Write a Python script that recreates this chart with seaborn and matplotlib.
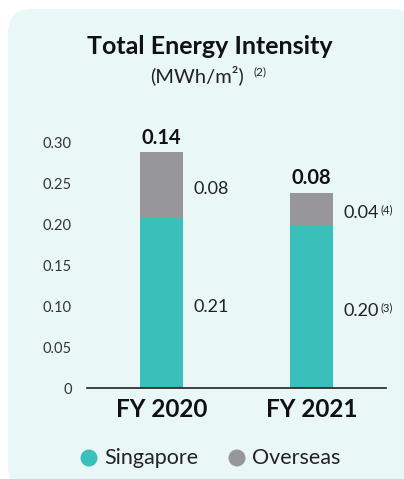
import matplotlib
matplotlib.use("Agg")
import matplotlib.pyplot as plt
import seaborn as sns
import pandas as pd
from matplotlib.patches import FancyBboxPatch, Ellipse

categories = ["FY 2020", "FY 2021"]
singapore = [0.208, 0.198]
overseas = [0.081, 0.041]
total_labels = ["0.14", "0.08"]
singapore_labels = ["0.21", "0.20"]
overseas_labels = ["0.08", "0.04"]
singapore_notes = ["", "(3)"]
overseas_notes = ["", "(4)"]
yticks = [0, 0.05, 0.10, 0.15, 0.20, 0.25, 0.30]
ytick_labels = ["0", "0.05", "0.10", "0.15", "0.20", "0.25", "0.30"]

TEAL = "#3bbfba"
GRAY = "#97979b"
BG = "#eaf7f7"
FONT = ["Lato", "DejaVu Sans"]

sns.set_theme(style="white")
plt.rcParams["font.family"] = FONT

W, H = 404, 479
fig = plt.figure(figsize=(W / 100, H / 100), dpi=100)
fig.patch.set_facecolor("white")


def px(x, y):
    return x / W, 1 - y / H


panel = FancyBboxPatch((8 / W, (H - 490) / H), (415 - 8) / W, (490 - 9) / H,
                       boxstyle="round,pad=0,rounding_size=0.06",
                       transform=fig.transFigure, facecolor=BG, edgecolor="none",
                       mutation_aspect=W / H, zorder=-10)
fig.patches.append(panel)

left, right = 87 / W, 386 / W
bottom = 1 - 388 / H
top = 1 - 142.7 / H
ax = fig.add_axes([left, bottom, right - left, top - bottom])
ax.set_facecolor("none")
ax.set_zorder(5)

totals = [s + o for s, o in zip(singapore, overseas)]
df = pd.DataFrame({"cat": categories, "total": totals, "sg": singapore})
sns.barplot(data=df, x="cat", y="total", color=GRAY, width=0.287, ax=ax,
            saturation=1, zorder=2, linewidth=0, edgecolor="none")
sns.barplot(data=df, x="cat", y="sg", color=TEAL, width=0.287, ax=ax,
            saturation=1, zorder=3, linewidth=0, edgecolor="none")

ax.set_xlim(-0.5, 1.5)
ax.set_ylim(0, 0.30)
ax.set_yticks(yticks)
ax.set_yticklabels(ytick_labels, fontsize=10.5, color="#333333")
ax.tick_params(axis="y", length=0, pad=11)
ax.tick_params(axis="x", length=0, pad=7)
ax.set_xticks(range(len(categories)))
ax.set_xticklabels(categories, fontsize=17.5, fontweight="bold", color="#111111")
ax.set_xlabel("")
ax.set_ylabel("")
for s in ["top", "left", "right"]:
    ax.spines[s].set_visible(False)
ax.spines["bottom"].set_color("#222222")
ax.spines["bottom"].set_linewidth(1.2)
ax.spines["bottom"].set_zorder(4)

for i in range(len(categories)):
    ax.text(i, totals[i] + 0.005, total_labels[i], ha="center", va="bottom",
            fontsize=14.5, fontweight="bold", color="#111111", clip_on=False)
    xr = i + 0.287 / 2 + 0.07
    ym_o = singapore[i] + overseas[i] / 2 - 0.005
    ym_s = singapore[i] / 2 - 0.005
    ax.text(xr, ym_o, overseas_labels[i], ha="left", va="center",
            fontsize=13, color="#222222", clip_on=False)
    ax.text(xr, ym_s, singapore_labels[i], ha="left", va="center",
            fontsize=13, color="#222222", clip_on=False)
    if overseas_notes[i]:
        ax.text(xr + 0.25, ym_o + 0.004, overseas_notes[i], ha="left", va="center",
                fontsize=8, color="#222222", clip_on=False)
    if singapore_notes[i]:
        ax.text(xr + 0.25, ym_s + 0.004, singapore_notes[i], ha="left", va="center",
                fontsize=8, color="#222222", clip_on=False)

# title
fig.text(210 / W, 1 - 47 / H, "Total Energy Intensity", ha="center", va="center",
         fontsize=18, fontweight="bold", color="#111111")
fig.text(197 / W, 1 - 75 / H, "(MWh/m²)", ha="center", va="center",
         fontsize=14.5, color="#222222")
fig.text(254 / W, 1 - 72 / H, "(2)", ha="left", va="center",
         fontsize=8.5, color="#222222")

# legend
for cx, label, col in [(89, "Singapore", TEAL), (237, "Overseas", GRAY)]:
    e = Ellipse(px(cx, 458), 17 / W, 17 / H, transform=fig.transFigure,
                facecolor=col, edgecolor="none")
    fig.add_artist(e)
    fig.text((cx + 15) / W, 1 - 458 / H, label, ha="left", va="center",
             fontsize=15.5, color="#222222")

fig.savefig("out.png", dpi=100, facecolor="white")
